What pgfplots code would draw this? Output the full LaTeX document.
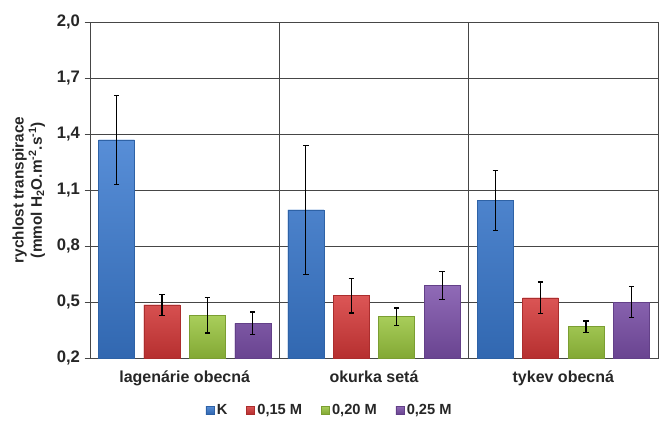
\documentclass[border=0pt]{standalone}
\usepackage{pgfplots}
\pgfplotsset{compat=1.18}
\usepackage{fontspec}
\setmainfont{Liberation Sans}
\definecolor{cK}{RGB}{58,122,208}
\definecolor{cA}{RGB}{214,56,56}
\definecolor{cB}{RGB}{154,198,62}
\definecolor{cC}{RGB}{124,80,170}
\definecolor{gridc}{RGB}{70,70,70}
\pgfplotstableread{
x y e
0 1.368 0.239
1 0.993 0.347
2 1.043 0.161
}\tK
\pgfplotstableread{
x y e
0 0.485 0.056
1 0.534 0.093
2 0.522 0.085
}\tA
\pgfplotstableread{
x y e
0 0.430 0.096
1 0.421 0.047
2 0.368 0.030
}\tB
\pgfplotstableread{
x y e
0 0.386 0.060
1 0.588 0.074
2 0.499 0.082
}\tC
\begin{document}
\begin{tikzpicture}
\begin{axis}[
  scale only axis,
  width=426pt, height=252pt,
  xmin=-0.5, xmax=2.5,
  ymin=0.2, ymax=2.0,
  ytick={0.2,0.5,0.8,1.1,1.4,1.7,2.0},
  yticklabel style={/pgf/number format/.cd, use comma, fixed, fixed zerofill, precision=1, assume math mode=true},
  ymajorgrids,
  major grid style={gridc, line width=0.6pt},
  axis line style={gridc, line width=0.6pt},
  xtick={0,1,2},
  xticklabels={lagenárie obecná, okurka setá, tykev obecná},
  major x tick style={draw=none},
  extra x ticks={0.5,1.5},
  extra x tick labels={},
  extra x tick style={grid=major, major tick length=0pt},
  y tick style={gridc, line width=0.6pt},
  tick align=outside,
  major tick length=4pt,
  ytick pos=left,
  xtick pos=bottom,
  ticklabel style={font=\bfseries\fontsize{12.5}{14}\selectfont, text=black!85},
  xticklabel style={yshift=-2pt, font=\bfseries\fontsize{12}{14}\selectfont},
  every axis y label/.style={at={(axis description cs:0,0.5)}, xshift=-45.5pt, rotate=90, anchor=center},
  ylabel={\begin{tabular}{@{}c@{}}rychlost transpirace\\(mmol H\textsubscript{2}O.m\textsuperscript{-2}.s\textsuperscript{-1})\end{tabular}},
  ylabel style={font=\bfseries\fontsize{11.5}{12.5}\selectfont, text=black!85},
  ybar, bar width=0.19,
  legend style={at={(axis description cs:0.4225,0)}, anchor=center, yshift=-39pt, draw=none, legend columns=4,
    font=\bfseries\fontsize{11}{12}\selectfont, text=black!85,
    /tikz/every even column/.append style={column sep=12pt}},
  legend image code/.code={\fill[#1] (0pt,-3pt) rectangle (6pt,3pt);},
  error bars/y dir=both, error bars/y explicit,
  error bars/error mark options={rotate=90, mark size=2pt, black, line width=0.9pt},
  error bars/error bar style={black, line width=0.9pt},
]
\addplot[fill=cK, top color=cK!85!white, bottom color=cK!85!black, draw=cK!80!black, bar shift=-0.36] table[x=x, y=y, y error=e]{\tK};
\addplot[fill=cA, top color=cA!85!white, bottom color=cA!85!black, draw=cA!80!black, bar shift=-0.12] table[x=x, y=y, y error=e]{\tA};
\addplot[fill=cB, top color=cB!85!white, bottom color=cB!85!black, draw=cB!80!black, bar shift=0.12] table[x=x, y=y, y error=e]{\tB};
\addplot[fill=cC, top color=cC!85!white, bottom color=cC!85!black, draw=cC!80!black, bar shift=0.36] table[x=x, y=y, y error=e]{\tC};
\legend{K, {0,15 M}, {0,20 M}, {0,25 M}}
\end{axis}
\pgfresetboundingbox
\path[use as bounding box] ([xshift=-67.5pt,yshift=-47.25pt]current axis.south west) rectangle ([xshift=1.5pt,yshift=16.5pt]current axis.north east);
\end{tikzpicture}
\end{document}
